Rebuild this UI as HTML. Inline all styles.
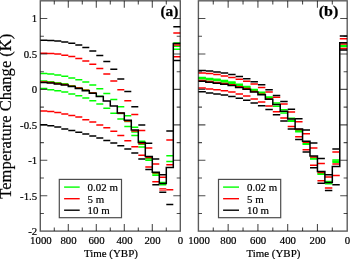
<!DOCTYPE html>
<html lang="en">
<head>
<meta charset="utf-8">
<title>Temperature Change vs Time (YBP)</title>
<style>
html,body{margin:0;padding:0;background:#fff;}
body{width:350px;height:259px;overflow:hidden;}
svg{display:block;will-change:transform;transform:translateZ(0);}
text{font-family:"Liberation Serif","Times New Roman",Times,serif;fill:#000;stroke:#000;stroke-width:0.2px;}
.tk{font-size:10.8px;}
.lg{font-size:10.9px;}
.xl{font-size:10.95px;}
.yl{font-size:16.55px;}
.pl{font-size:15.2px;font-weight:bold;stroke:#000;stroke-width:0.25px;}
</style>
</head>
<body>
<svg width="350" height="259" viewBox="0 0 350 259">
<rect width="350" height="259" fill="#fff"/>
<g><path d="M40.3 73.5H47.3M47.3 74.1H54.3M54.3 75.1H61.3M61.3 76.2H68.3M68.3 78H75.3M75.3 79.7H82.3M82.3 82H89.3M89.3 85H96.3M96.3 88.8H103.3M103.3 93.6H110.3M110.3 99.5H117.3M117.3 106.7H124.3M124.3 115.7H131.3M131.3 127.2H138.3M138.3 141.2H145.3M159.3 182.4H166.3M166.3 155.8H173.3M173.3 42.9H180.3" stroke="#00ff00" stroke-width="1.5" fill="none"/>
<path d="M40.3 88.5H47.3M47.3 89.7H54.3M54.3 90.7H61.3M61.3 92.1H68.3M68.3 93.9H75.3M75.3 95.8H82.3M82.3 97.9H89.3M89.3 100.7H96.3M96.3 103.9H103.3M103.3 108.2H110.3M110.3 113.3H117.3M117.3 119.1H124.3M124.3 126.6H131.3M131.3 135.6H138.3M138.3 146.9H145.3M145.3 160.3H152.3M152.3 175.2H159.3M159.3 184.7H166.3M173.3 49.2H180.3" stroke="#00ff00" stroke-width="1.5" fill="none"/>
<path d="M40.3 81.1H47.3M47.3 81.75H54.3M54.3 82.7H61.3M61.3 83.85H68.3M68.3 85.65H75.3M75.3 87.65H82.3M82.3 90H89.3M89.3 92.75H96.3M96.3 96.15H103.3M117.3 113.5H124.3M124.3 121.5H131.3M131.3 132H138.3M138.3 144.2H145.3M145.3 158.8H152.3M152.3 173.8H159.3M166.3 161.6H173.3M173.3 46.3H180.3" stroke="#00ff00" stroke-width="1.5" fill="none"/>
<path d="M40.3 53.3H47.3M47.3 53.6H54.3M54.3 54.1H61.3M61.3 55.3H68.3M68.3 56.6H75.3M75.3 58.6H82.3M82.3 60.9H89.3M89.3 64.2H96.3M96.3 68.4H103.3M103.3 73.9H110.3M110.3 80.9H117.3M117.3 89.7H124.3M124.3 100.7H131.3M131.3 114.5H138.3M138.3 130.6H145.3M145.3 148H152.3M152.3 163.9H159.3M159.3 177.3H166.3M166.3 140H173.3M173.3 33H180.3" stroke="#ff0000" stroke-width="1.5" fill="none"/>
<path d="M40.3 110.9H47.3M47.3 111.4H54.3M54.3 112.4H61.3M61.3 113.9H68.3M68.3 115.4H75.3M75.3 117.1H82.3M82.3 119.7H89.3M89.3 122.1H96.3M96.3 124.9H103.3M103.3 127.7H110.3M110.3 131.2H117.3M117.3 135.6H124.3M124.3 140.8H131.3M131.3 146.8H138.3M138.3 155.2H145.3M145.3 167H152.3M152.3 181.7H159.3M166.3 189.8H173.3M173.3 56.7H180.3" stroke="#ff0000" stroke-width="1.5" fill="none"/>
<path d="M40.3 82H47.3M47.3 82.55H54.3M54.3 83.4H61.3M61.3 84.4H68.3M68.3 86.15H75.3M75.3 88.1H82.3M82.3 90.35H89.3M89.3 93.02H96.3M117.3 113.2H124.3M124.3 120.9H131.3M131.3 131H138.3M138.3 143.5H145.3M145.3 157.55H152.3M152.3 172.7H159.3M166.3 164.8H173.3M173.3 44.9H180.3" stroke="#ff0000" stroke-width="1.5" fill="none"/>
<path d="M40.3 40.3H47.3M47.3 40.6H54.3M54.3 41H61.3M61.3 42H68.3M68.3 43.2H75.3M75.3 44.9H82.3M82.3 47.6H89.3M89.3 51H96.3M96.3 55.6H103.3M103.3 61.6H110.3M110.3 69.3H117.3M117.3 79H124.3M124.3 91.6H131.3M131.3 106.8H138.3M138.3 125H145.3M145.3 143.2H152.3M152.3 159H159.3M159.3 174.8H166.3M166.3 131H173.3M173.3 26.7H180.3" stroke="#000000" stroke-width="1.5" fill="none"/>
<path d="M40.3 124.7H47.3M47.3 125.8H54.3M54.3 127.1H61.3M61.3 128.9H68.3M68.3 130.4H75.3M75.3 132.3H82.3M82.3 134H89.3M89.3 136H96.3M96.3 138H103.3M103.3 140.4H110.3M110.3 142.9H117.3M117.3 145.7H124.3M124.3 148.9H131.3M131.3 153.1H138.3M138.3 159H145.3M145.3 169.4H152.3M152.3 184.8H159.3M159.3 192.2H166.3M166.3 204.4H173.3M173.3 60.6H180.3" stroke="#000000" stroke-width="1.5" fill="none"/>
<path d="M40.3 82.6H47.3V83.1H54.3V83.9H61.3V84.9H68.3V86.6H75.3V88.5H82.3V90.7H89.3V93.3H96.3V96.5H103.3V101H110.3V106.1H117.3V112.9H124.3V120.3H131.3V130.1H138.3V142.4H145.3V156.5H152.3V172.2H159.3V183.6H166.3V167.4H173.3V43.6H180.3" stroke="#000000" stroke-width="1.5" fill="none" stroke-linejoin="miter"/><path d="M159.3 188.7h7M159.3 190.1h7" stroke="#ff0000" stroke-width="1" fill="none"/></g>
<g><path d="M198.4 77.4H205.84M205.84 78.4H213.28M213.28 79.2H220.72M220.72 80.5H228.16M228.16 82.1H235.6M235.6 84.2H243.04M243.04 86.4H250.48M250.48 89.4H257.92M257.92 92.3H265.36M265.36 97H272.8M272.8 103.1H280.24M280.24 109.7H287.68M287.68 118.2H295.12M324.88 181.4H332.32M332.32 160.1H339.76M339.76 45.4H347.2" stroke="#00ff00" stroke-width="1.5" fill="none"/>
<path d="M198.4 78.8H205.84M205.84 79.8H213.28M213.28 80.6H220.72M220.72 81.9H228.16M228.16 83.5H235.6M235.6 85.6H243.04M243.04 87.8H250.48M250.48 90.8H257.92M257.92 93.7H265.36M265.36 98.6H272.8M272.8 106.2H280.24M280.24 113H287.68M287.68 121.3H295.12M295.12 131.8H302.56M302.56 144.3H310M310 159.1H317.44M317.44 174.2H324.88M324.88 183.8H332.32M332.32 162.3H339.76M339.76 46.55H347.2" stroke="#00ff00" stroke-width="1.5" fill="none"/>
<path d="M198.4 78.1H205.84M205.84 79.1H213.28M213.28 79.9H220.72M220.72 81.2H228.16M228.16 82.8H235.6M235.6 84.9H243.04M243.04 87.1H250.48M250.48 90.1H257.92M257.92 93H265.36M265.36 97.8H272.8M287.68 120.5H295.12M295.12 130.8H302.56M302.56 143.5H310M310 158.1H317.44M317.44 173.5H324.88M332.32 161.2H339.76M339.76 46H347.2" stroke="#00ff00" stroke-width="1.5" fill="none"/>
<path d="M198.4 72.9H205.84M205.84 73.6H213.28M213.28 74.6H220.72M220.72 76H228.16M228.16 77.4H235.6M235.6 79.3H243.04M243.04 81.2H250.48M250.48 84H257.92M257.92 87.4H265.36M265.36 91.9H272.8M272.8 97.2H280.24M280.24 103.9H287.68M287.68 112H295.12M295.12 121.8H302.56M302.56 133.7H310M310 147.9H317.44M317.44 163.6H324.88M324.88 176.9H332.32M332.32 151.9H339.76M339.76 38.7H347.2" stroke="#ff0000" stroke-width="1.5" fill="none"/>
<path d="M198.4 87.9H205.84M205.84 88.9H213.28M213.28 89.7H220.72M220.72 90.7H228.16M228.16 92.1H235.6M235.6 93.9H243.04M243.04 96H250.48M250.48 99H257.92M257.92 102.1H265.36M265.36 106.1H272.8M272.8 111.8H280.24M280.24 117.9H287.68M287.68 126.4H295.12M295.12 136.7H302.56M302.56 149.8H310M310 165.2H317.44M317.44 180.8H324.88M324.88 188.1H332.32M332.32 175.4H339.76M339.76 48.4H347.2" stroke="#ff0000" stroke-width="1.5" fill="none"/>
<path d="M198.4 80.4H205.84M205.84 81.5H213.28M213.28 82.4H220.72M220.72 83.55H228.16M228.16 84.8H235.6M235.6 86.7H243.04M243.04 88.6H250.48M250.48 91.5H257.92M257.92 94.2H265.36M265.36 98.9H272.8M295.12 129.5H302.56M302.56 142.3H310M310 156.9H317.44M317.44 172.5H324.88M332.32 164.1H339.76M339.76 43.9H347.2" stroke="#ff0000" stroke-width="1.5" fill="none"/>
<path d="M198.4 70.4H205.84M205.84 71H213.28M213.28 71.9H220.72M220.72 73.1H228.16M228.16 74.6H235.6M235.6 76.4H243.04M243.04 78.8H250.48M250.48 81.7H257.92M257.92 84.7H265.36M265.36 89.7H272.8M272.8 95.4H280.24M280.24 101.4H287.68M287.68 109.2H295.12M295.12 118.8H302.56M302.56 129.9H310M310 143.1H317.44M317.44 158.6H324.88M324.88 174.7H332.32M332.32 148.9H339.76M339.76 36H347.2" stroke="#000000" stroke-width="1.5" fill="none"/>
<path d="M198.4 91.7H205.84M205.84 92.9H213.28M213.28 93.9H220.72M220.72 95H228.16M228.16 96.4H235.6M235.6 98.3H243.04M243.04 100.2H250.48M250.48 102.9H257.92M257.92 105.7H265.36M265.36 109.6H272.8M272.8 114.8H280.24M280.24 121.1H287.68M287.68 129.1H295.12M295.12 139.6H302.56M302.56 152.1H310M310 167.8H317.44M317.44 183.3H324.88M324.88 190.4H332.32M332.32 184.7H339.76M339.76 49.9H347.2" stroke="#000000" stroke-width="1.5" fill="none"/>
<path d="M198.4 81.2H205.84V82.3H213.28V83.2H220.72V84.3H228.16V85.5H235.6V87.4H243.04V89.2H250.48V92.1H257.92V94.7H265.36V99.3H272.8V104.6H280.24V111.2H287.68V118.9H295.12V128.9H302.56V141.2H310V155.9H317.44V171.6H324.88V182.5H332.32V166.4H339.76V42.8H347.2" stroke="#000000" stroke-width="1.5" fill="none" stroke-linejoin="miter"/></g>
<rect x="40.3" y="0.8" width="140" height="230.3" fill="none" stroke="#000" stroke-width="1.4" stroke-opacity="0.64"/>
<path d="M166.3 231.1v-3.6M166.3 0.8v3.6M152.3 231.1v-7M152.3 0.8v7M138.3 231.1v-3.6M138.3 0.8v3.6M124.3 231.1v-7M124.3 0.8v7M110.3 231.1v-3.6M110.3 0.8v3.6M96.3 231.1v-7M96.3 0.8v7M82.3 231.1v-3.6M82.3 0.8v3.6M68.3 231.1v-7M68.3 0.8v7M54.3 231.1v-3.6M54.3 0.8v3.6M40.3 213.48h3.6M180.3 213.48h-3.6M40.3 195.75h7M180.3 195.75h-7M40.3 178.03h3.6M180.3 178.03h-3.6M40.3 160.3h7M180.3 160.3h-7M40.3 142.58h3.6M180.3 142.58h-3.6M40.3 124.85h7M180.3 124.85h-7M40.3 107.12h3.6M180.3 107.12h-3.6M40.3 89.4h7M180.3 89.4h-7M40.3 71.68h3.6M180.3 71.68h-3.6M40.3 53.95h7M180.3 53.95h-7M40.3 36.23h3.6M180.3 36.23h-3.6M40.3 18.5h7M180.3 18.5h-7" stroke="#000" stroke-width="1.1" stroke-opacity="0.7" fill="none"/>
<text x="40.9" y="243.7" text-anchor="middle" class="tk">1000</text>
<text x="68.5" y="243.7" text-anchor="middle" class="tk">800</text>
<text x="96.5" y="243.7" text-anchor="middle" class="tk">600</text>
<text x="124.5" y="243.7" text-anchor="middle" class="tk">400</text>
<text x="152.5" y="243.7" text-anchor="middle" class="tk">200</text>
<text x="180.5" y="243.7" text-anchor="middle" class="tk">0</text>
<text x="37.2" y="22.4" text-anchor="end" class="tk">1</text>
<text x="37.2" y="57.85" text-anchor="end" class="tk">0.5</text>
<text x="37.2" y="93.3" text-anchor="end" class="tk">0</text>
<text x="37.2" y="128.75" text-anchor="end" class="tk">-0.5</text>
<text x="37.2" y="164.2" text-anchor="end" class="tk">-1</text>
<text x="37.2" y="199.65" text-anchor="end" class="tk">-1.5</text>
<text x="37.2" y="235" text-anchor="end" class="tk">-2</text>
<text x="110.9" y="256.7" text-anchor="middle" class="xl">Time (YBP)</text>
<rect x="198.4" y="0.8" width="148.8" height="230.3" fill="none" stroke="#000" stroke-width="1.4" stroke-opacity="0.64"/>
<path d="M332.32 231.1v-3.6M332.32 0.8v3.6M317.44 231.1v-7M317.44 0.8v7M302.56 231.1v-3.6M302.56 0.8v3.6M287.68 231.1v-7M287.68 0.8v7M272.8 231.1v-3.6M272.8 0.8v3.6M257.92 231.1v-7M257.92 0.8v7M243.04 231.1v-3.6M243.04 0.8v3.6M228.16 231.1v-7M228.16 0.8v7M213.28 231.1v-3.6M213.28 0.8v3.6M198.4 213.48h3.6M347.2 213.48h-3.6M198.4 195.75h7M347.2 195.75h-7M198.4 178.03h3.6M347.2 178.03h-3.6M198.4 160.3h7M347.2 160.3h-7M198.4 142.58h3.6M347.2 142.58h-3.6M198.4 124.85h7M347.2 124.85h-7M198.4 107.12h3.6M347.2 107.12h-3.6M198.4 89.4h7M347.2 89.4h-7M198.4 71.68h3.6M347.2 71.68h-3.6M198.4 53.95h7M347.2 53.95h-7M198.4 36.23h3.6M347.2 36.23h-3.6M198.4 18.5h7M347.2 18.5h-7" stroke="#000" stroke-width="1.1" stroke-opacity="0.7" fill="none"/>
<text x="199" y="243.7" text-anchor="middle" class="tk">1000</text>
<text x="228.36" y="243.7" text-anchor="middle" class="tk">800</text>
<text x="258.12" y="243.7" text-anchor="middle" class="tk">600</text>
<text x="287.88" y="243.7" text-anchor="middle" class="tk">400</text>
<text x="317.64" y="243.7" text-anchor="middle" class="tk">200</text>
<text x="347.4" y="243.7" text-anchor="middle" class="tk">0</text>
<text x="273.4" y="256.7" text-anchor="middle" class="xl">Time (YBP)</text>
<rect x="59.3" y="179.4" width="62.2" height="38.3" fill="#fff" stroke="#000" stroke-width="1.2" stroke-opacity="0.7"/>
<path d="M64.1 187.1H79.7" stroke="#00ff00" stroke-width="1.4"/>
<text x="87.6" y="191" class="lg">0.02 m</text>
<path d="M64.1 198.7H79.7" stroke="#ff0000" stroke-width="1.4"/>
<text x="87.6" y="202.6" class="lg">5 m</text>
<path d="M64.1 210.2H79.7" stroke="#000000" stroke-width="1.4"/>
<text x="87.6" y="214.1" class="lg">10 m</text>
<rect x="218.5" y="179.4" width="62.2" height="38.3" fill="#fff" stroke="#000" stroke-width="1.2" stroke-opacity="0.7"/>
<path d="M223.1 187.1H239" stroke="#00ff00" stroke-width="1.4"/>
<text x="247" y="191" class="lg">0.02 m</text>
<path d="M223.1 198.7H239" stroke="#ff0000" stroke-width="1.4"/>
<text x="247" y="202.6" class="lg">5 m</text>
<path d="M223.1 210.2H239" stroke="#000000" stroke-width="1.4"/>
<text x="247" y="214.1" class="lg">10 m</text>
<text x="160.4" y="16.4" textLength="17.9" lengthAdjust="spacingAndGlyphs" class="pl">(a)</text>
<text x="318.7" y="16.4" textLength="19.6" lengthAdjust="spacingAndGlyphs" class="pl">(b)</text>
<text transform="translate(10.8 116.2) rotate(-90)" text-anchor="middle" class="yl">Temperature Change (K)</text>
</svg>
</body>
</html>
